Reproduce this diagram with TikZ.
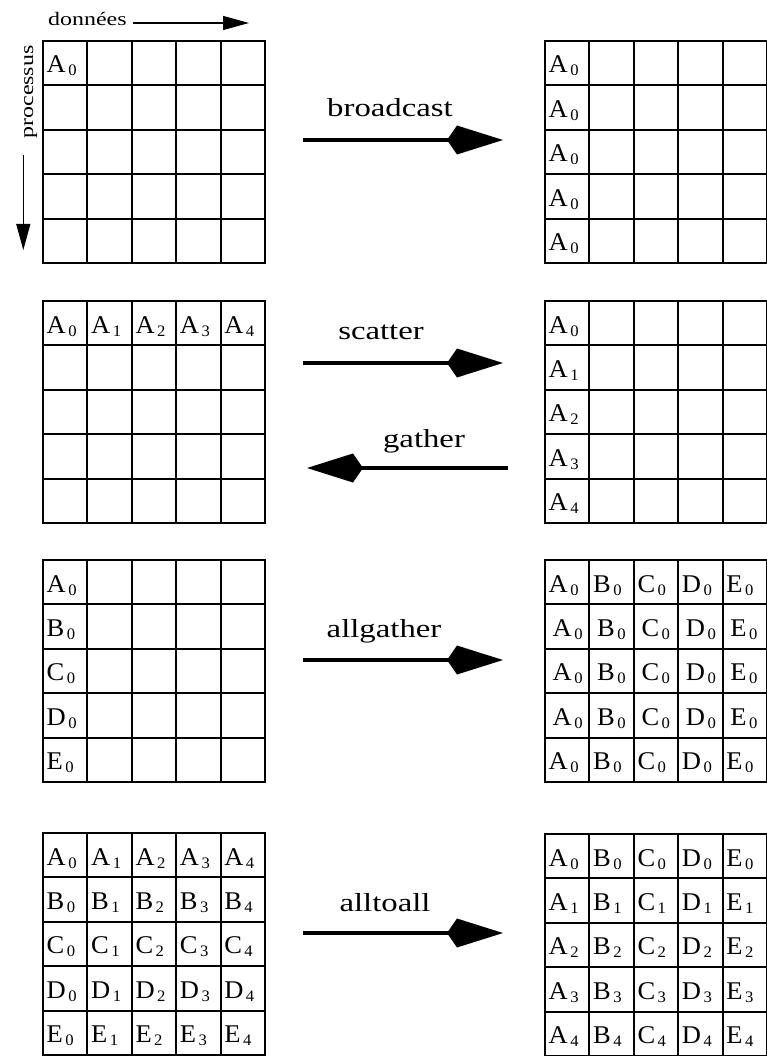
\documentclass[tikz,border=0pt]{standalone}
\usepackage{fontspec}
\setmainfont{Liberation Serif}
\newfontfamily\labfont[FakeStretch=1.26]{Liberation Serif}
\newfontfamily\cellfont[FakeStretch=1.04]{Liberation Serif}
\usetikzlibrary{arrows.meta}
\newcommand{\mpicell}[2]{#1\kern2.5pt\raisebox{-3pt}{\fontsize{16}{16}\selectfont #2}}
\newcommand{\mpigrid}[3]{%
  \coordinate (#1) at (#2,#3);
  \draw[gridline] (#1) rectangle ++(222,222);
  \foreach \i in {1,...,4} {
    \draw[gridline] ({#2+\i*44.4},#3) -- ++(0,222);
    \draw[gridline] (#2,{#3+\i*44.4}) -- ++(222,0);
  }%
}
\tikzset{
  gridline/.style={line width=1.9pt},
  celltxt/.style={anchor=base west, inner sep=0pt, font=\cellfont\fontsize{25.5}{25.5}\selectfont},
  oplabel/.style={anchor=base, inner sep=0pt, font=\labfont\fontsize{26}{26}\selectfont},
  smalllabel/.style={inner sep=0pt, font=\labfont\fontsize{19}{19}\selectfont},
  shaft/.style={line width=4pt, shorten >=50pt},
  thinarrow/.style={line width=1.1pt, -{Triangle[length=26pt,width=14pt]}},
}
\begin{document}
\begin{tikzpicture}[x=1pt,y=-1pt]
\useasboundingbox (0,0) rectangle (766,1056);

% axis labels
\node[smalllabel, anchor=base west] (donnees) at (48,26) {données};
\coordinate (dA) at (133,23);
\coordinate (dB) at (249,23);
\draw[thinarrow] (dA) -- (dB);
\node[smalllabel, anchor=base, rotate=90] (processus) at (33,92) {processus};
\coordinate (pA) at (23.3,155);
\coordinate (pB) at (23.3,250);
\draw[thinarrow] (pA) -- (pB);

% grids
\mpigrid{g1l}{43}{41}
\mpigrid{g1r}{545}{41}
\mpigrid{g2l}{43}{301}
\mpigrid{g2r}{545}{301}
\mpigrid{g3l}{43}{560}
\mpigrid{g3r}{545}{560}
\mpigrid{g4l}{43}{833}
\mpigrid{g4r}{545}{834}

% broadcast
\node[celltxt] (t1l) at (46.5,73) {\mpicell{A}{0}};
\foreach \r in {0,...,4}
  \node[celltxt] (t1r-\r) at (548.5,{73+\r*44.4}) {\mpicell{A}{0}};

% scatter / gather
\foreach \c in {0,...,4}
  \node[celltxt] (t2l-\c) at ({46.5+\c*44.4},333) {\mpicell{A}{\c}};
\foreach \r in {0,...,4}
  \node[celltxt] (t2r-\r) at (548.5,{333+\r*44.4}) {\mpicell{A}{\r}};

% allgather
\foreach \r/\L in {0/A,1/B,2/C,3/D,4/E}
  \node[celltxt] (t3l-\r) at (46.5,{592+\r*44.4}) {\mpicell{\L}{0}};
\foreach \r in {0,...,4}
  \foreach \c/\L in {0/A,1/B,2/C,3/D,4/E}
    \node[celltxt] (t3r-\r-\c) at ({548.5+\c*44.4+4*(\r>0)*(\r<4)},{592+\r*44.4}) {\mpicell{\L}{0}};

% alltoall
\foreach \r/\L in {0/A,1/B,2/C,3/D,4/E}
  \foreach \c in {0,...,4}
    \node[celltxt] (t4l-\r-\c) at ({46.5+\c*44.4},{865+\r*44.4}) {\mpicell{\L}{\c}};
\foreach \c/\L in {0/A,1/B,2/C,3/D,4/E}
  \foreach \r in {0,...,4}
    \node[celltxt] (t4r-\r-\c) at ({548.5+\c*44.4},{866+\r*44.4}) {\mpicell{\L}{\r}};

% operation arrows
\coordinate (bS) at (303,140); \coordinate (bT) at (503,140);
\draw[shaft] (bS) -- (bT);
\fill (bT) -- ++(-46,-14.5) -- ++(-10,14.5) -- ++(10,14.5) -- cycle;
\node[oplabel] (lbroadcast) at (390,117) {broadcast};

\coordinate (sS) at (303,363); \coordinate (sT) at (503,363);
\draw[shaft] (sS) -- (sT);
\fill (sT) -- ++(-46,-14.5) -- ++(-10,14.5) -- ++(10,14.5) -- cycle;
\node[oplabel] (lscatter) at (381,339) {scatter};

\coordinate (gS) at (508,468); \coordinate (gT) at (307,468);
\draw[shaft] (gS) -- (gT);
\fill (gT) -- ++(46,-14.5) -- ++(10,14.5) -- ++(-10,14.5) -- cycle;
\node[oplabel] (lgather) at (424,447) {gather};

\coordinate (agS) at (303,660); \coordinate (agT) at (503,660);
\draw[shaft] (agS) -- (agT);
\fill (agT) -- ++(-46,-14.5) -- ++(-10,14.5) -- ++(10,14.5) -- cycle;
\node[oplabel] (lallgather) at (384,637) {allgather};

\coordinate (aaS) at (303,933); \coordinate (aaT) at (503,933);
\draw[shaft] (aaS) -- (aaT);
\fill (aaT) -- ++(-46,-14.5) -- ++(-10,14.5) -- ++(10,14.5) -- cycle;
\node[oplabel] (lalltoall) at (385,911) {alltoall};
\end{tikzpicture}
\end{document}
